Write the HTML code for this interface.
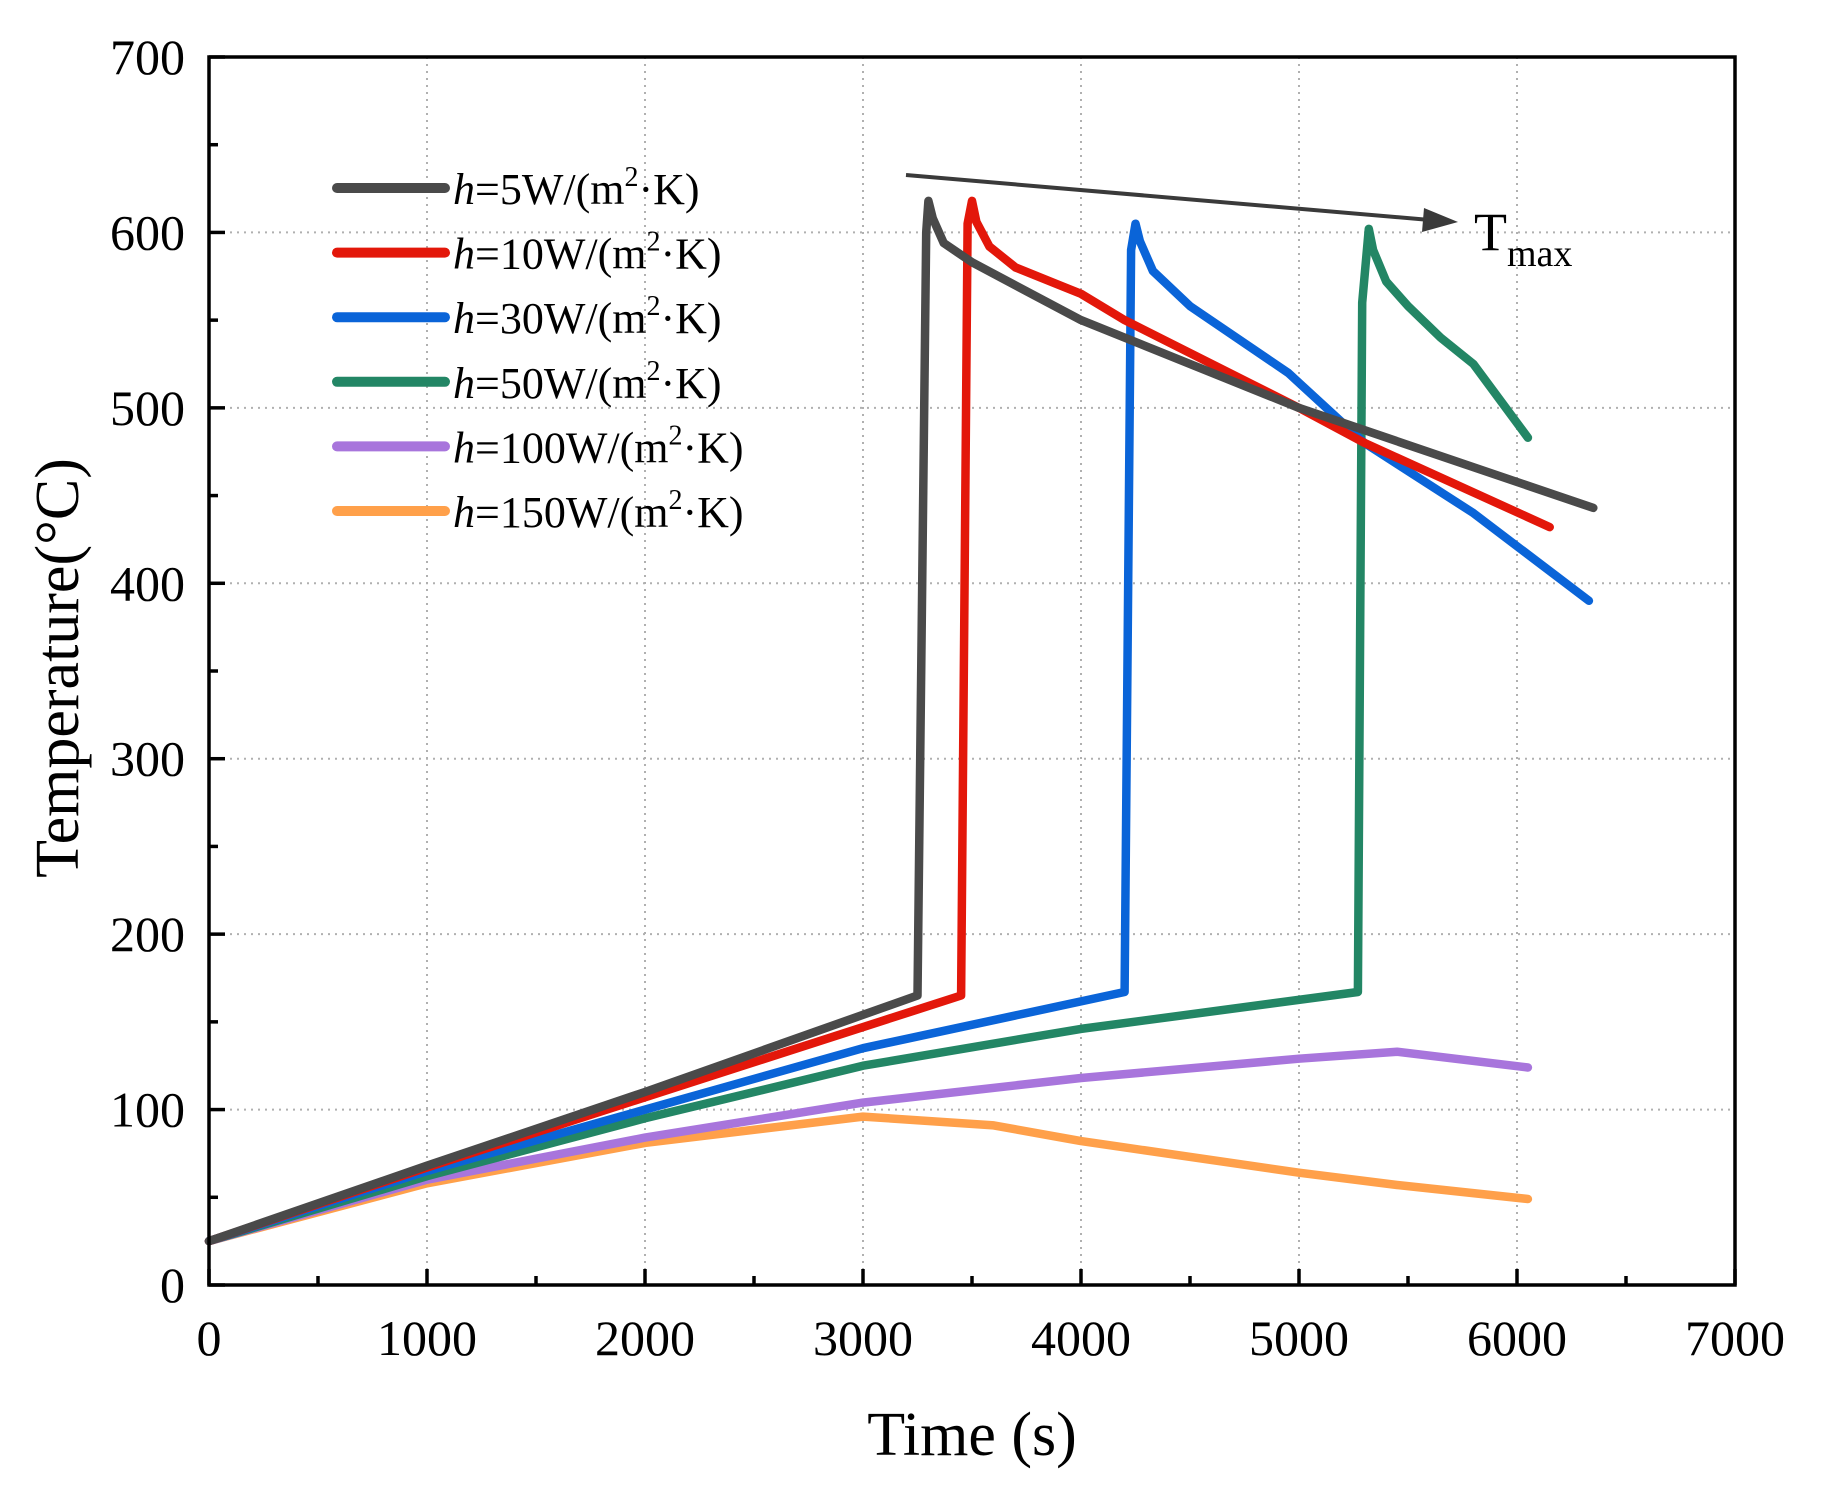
<!DOCTYPE html>
<html><head><meta charset="utf-8"><style>
html,body{margin:0;padding:0;background:#fff;}
svg{display:block;font-family:"Liberation Serif",serif;}
</style></head><body>
<svg id="chart" width="1822" height="1490" viewBox="0 0 1822 1490" xmlns="http://www.w3.org/2000/svg">
<g id="grid"></g>
<g id="series"></g>
<g id="axes"></g>
<g id="legend"></g>
<g>
<line x1="906" y1="175" x2="1430" y2="220" stroke="#3a3a3a" stroke-width="4"/>
<polygon points="1458,222 1424,208 1422,232" fill="#3a3a3a"/>
<text x="1474" y="250" font-size="54">T<tspan font-size="38" dy="16">max</tspan></text>
</g>
<text x="972" y="1455" font-size="62" text-anchor="middle">Time (s)</text>
<text transform="translate(78,668) rotate(-90)" font-size="62" text-anchor="middle">Temperature(°C)</text>
</svg>
<script>
const xTicks=[0,1000,2000,3000,4000,5000,6000,7000];
const yTicks=[0,100,200,300,400,500,600,700];
const seriesNames=["h=5","h=10","h=30","h=50","h=100","h=150"];
const seriesColors=["#4a4a4a","#e3170a","#0a64d8","#238665","#a875dc","#ffa04a"];
const legendLabels=["5","10","30","50","100","150"];
const s5t=[0,1000,2000,3250,3290,3300,3320,3370,3500,4000,5000,6350];
const s5v=[25,68,110,165,600,618,608,594,583,550,500,443];
const s10t=[0,1000,2000,3450,3480,3500,3520,3580,3700,3900,4000,4200,5000,5300,6150];
const s10v=[25,67,107,165,605,618,606,592,580,570,565,550,500,480,432];
const s30t=[0,1000,2000,3000,4200,4230,4250,4270,4330,4500,4950,5300,5800,6330];
const s30v=[25,65,100,135,167,590,605,595,578,558,520,480,440,390];
const s50t=[0,1000,2000,3000,4000,5270,5290,5320,5340,5400,5500,5650,5800,6050];
const s50v=[25,62,95,125,146,167,560,602,590,572,558,540,525,483];
const s100t=[0,1000,2000,3000,4000,5000,5450,6050];
const s100v=[25,60,84,104,118,129,133,124];
const s150t=[0,1000,2000,3000,3600,4000,5000,5450,6050];
const s150v=[25,58,81,96,91,82,64,57,49];

const X0=209,X1=1735,Y0=1285,Y1=57;
const xs=v=>X0+(v/7000)*(X1-X0);
const ys=v=>Y0-(v/700)*(Y0-Y1);
const NS="http://www.w3.org/2000/svg";
function mk(tag,attrs,parent){const e=document.createElementNS(NS,tag);for(const k in attrs)e.setAttribute(k,attrs[k]);parent.appendChild(e);return e;}
const grid=document.getElementById('grid'),axes=document.getElementById('axes'),ser=document.getElementById('series'),leg=document.getElementById('legend');
xTicks.forEach((t,i)=>{
  if(i>0&&i<xTicks.length-1){const g=mk('line',{x1:xs(t),x2:xs(t),y1:Y1,y2:Y0,stroke:'#b0b0b0','stroke-width':2,'stroke-dasharray':'2,5'},grid);
  
  }
  const tk=mk('line',{x1:xs(t),x2:xs(t),y1:Y0,y2:Y0-16,stroke:'#000','stroke-width':3.5},axes);
  
  
  if(i<xTicks.length-1){const m=mk('line',{x1:xs(t+500),x2:xs(t+500),y1:Y0,y2:Y0-9,stroke:'#000','stroke-width':3.5},axes);
  
  }
  const lb=mk('text',{x:xs(t),y:Y0+70,'font-size':50,'text-anchor':'middle'},axes);lb.textContent=t;
  
  
});
yTicks.forEach((t,i)=>{
  if(i>0&&i<yTicks.length-1){const g=mk('line',{x1:X0,x2:X1,y1:ys(t),y2:ys(t),stroke:'#b0b0b0','stroke-width':2,'stroke-dasharray':'2,5'},grid);
  
  }
  const tk=mk('line',{x1:X0,x2:X0+16,y1:ys(t),y2:ys(t),stroke:'#000','stroke-width':3.5},axes);
  
  
  if(i<yTicks.length-1){const m=mk('line',{x1:X0,x2:X0+9,y1:ys(t+50),y2:ys(t+50),stroke:'#000','stroke-width':3.5},axes);
  
  }
  const lb=mk('text',{x:X0-24,y:ys(t)+17,'font-size':50,'text-anchor':'end'},axes);lb.textContent=t;
  
  
});
const frame=mk('rect',{x:X0,y:Y1,width:X1-X0,height:Y0-Y1,fill:'none',stroke:'#000','stroke-width':3.5},axes);


const allT=[s5t,s10t,s30t,s50t,s100t,s150t],allV=[s5v,s10v,s30v,s50v,s100v,s150v];
for(let k=5;k>=0;k--){
  const pts=allT[k].map((t,i)=>xs(t).toFixed(1)+','+ys(allV[k][i]).toFixed(1)).join(' ');
  const p=mk('polyline',{points:pts,fill:'none',stroke:seriesColors[k],'stroke-width':8.5,'stroke-linejoin':'round','stroke-linecap':'round'},ser);
  
  
}
legendLabels.forEach((l,i)=>{
  const y=188+i*64.6;
  const ln=mk('line',{x1:337,x2:445,y1:y,y2:y,stroke:seriesColors[i],'stroke-width':10,'stroke-linecap':'round'},leg);
  
  
  const tx=mk('text',{x:453,y:y+16,'font-size':44},leg);
  tx.innerHTML='<tspan font-style="italic">h</tspan>='+l+'W/(m<tspan font-size="28" dy="-18">2</tspan><tspan dy="18">·K)</tspan>';
  
  
});
</script>
</body></html>
